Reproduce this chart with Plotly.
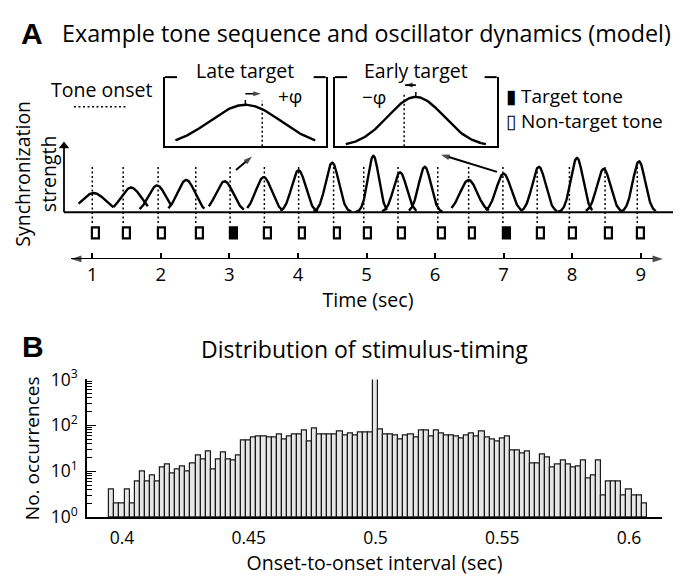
import numpy as np
import plotly.graph_objects as go

W, H = 692, 577
FONT = "Open Sans"

# ---------------- Panel A data ----------------
time_ticks = [1, 2, 3, 4, 5, 6, 7, 8, 9]
tone_onsets = [1.00, 1.45, 1.96, 2.51, 3.01, 3.51, 4.01, 4.52, 4.96,
               5.46, 6.04, 6.49, 6.99, 7.49, 7.96, 8.48, 8.95]
tone_is_target = [False, False, False, False, True, False, False, False, False,
                  False, False, False, True, False, False, False, False]
tone_duration = 0.1

# oscillator segments (one bump per tone): peak time, peak strength, width, extent
osc_peak_time = [1.02, 1.565, 1.945, 2.37, 2.93, 3.50, 4.01, 4.50, 5.10,
                 5.49, 5.85, 6.49, 7.00, 7.515, 8.07, 8.46, 8.975]
osc_peak_height = [0.28, 0.36, 0.39, 0.47, 0.45, 0.51, 0.61, 0.72, 0.82,
                   0.58, 0.66, 0.47, 0.56, 0.66, 0.79, 0.63, 0.74]
osc_width = [0.175, 0.146, 0.124, 0.127, 0.127, 0.117, 0.102, 0.095, 0.080,
             0.095, 0.090, 0.125, 0.108, 0.098, 0.089, 0.099, 0.090]
osc_start = [0.80, 1.31, 1.69, 2.11, 2.70, 3.26, 3.745, 4.23, 4.84,
             5.23, 5.62, 6.24, 6.74, 7.25, 7.79, 8.20, 8.71]
osc_end = [1.31, 1.81, 2.15, 2.635, 3.21, 3.78, 4.29, 4.78, 5.30,
           5.73, 6.105, 6.785, 7.27, 7.78, 8.295, 8.73, 9.22]

# insets (phase units): late target / early target
late_peak_height, late_width, late_span, late_onset_phase = 0.60, 0.443, 0.87, 0.21
early_peak_height, early_width, early_span, early_onset_phase = 0.714, 0.346, 0.866, -0.145

# ---------------- Panel B data ----------------
interval_bin_start = 0.395
interval_bin_width = 0.002
interval_counts = [4, 2, 2, 4, 2, 6, 10, 6, 8, 6,
                   12, 14, 9, 11, 13, 10, 15, 22, 18, 27,
                   11, 18, 26, 18, 17, 22, 47, 48, 54, 58,
                   58, 54, 55, 63, 49, 57, 64, 65, 76, 45,
                   85, 64, 62, 62, 62, 73, 60, 66, 59, 70,
                   70, 71, 1270, 80, 65, 62, 61, 50, 59, 62,
                   55, 78, 78, 56, 76, 68, 59, 60, 56, 53,
                   59, 68, 57, 73, 55, 49, 45, 53, 56, 29,
                   29, 25, 27, 15, 15, 23, 20, 12, 14, 17,
                   14, 12, 13, 17, 7, 8, 17, 3, 6, 6,
                   6, 3, 4, 3, 3, 2]
interval_ticks = [0.4, 0.45, 0.5, 0.55, 0.6]
interval_ticktext = ["0.4", "0.45", "0.5", "0.55", "0.6"]
count_ticks = [1, 10, 100, 1000]
count_ticktext = ["10<sup>0</sup>", "10<sup>1</sup>", "10<sup>2</sup>", "10<sup>3</sup>"]


# ---------------- geometry helpers (pixel -> axis units) ----------------
def px(x):
    return x / W


def py(y):
    return 1 - y / H


def ta(xp):  # panel A time for pixel x
    return 1 + (xp - 92.3) / 68.55


def va(yp):  # panel A strength for pixel y
    return (207.3 - yp) / 72.0


def tb(xp):  # panel B interval for pixel x
    return 0.5 + (xp - 375.5) / 2535.0


fig = go.Figure()
hid = dict(showlegend=False, hoverinfo="skip")


def arrow_line(x0, y0, x1, y1, xa="x", ya="y", width=1.8, head=10, both=False, symbol="arrow"):
    fig.add_trace(go.Scatter(
        x=[x0, x1], y=[y0, y1], mode="lines+markers", xaxis=xa, yaxis=ya,
        line=dict(color="black", width=width),
        marker=dict(symbol=symbol, angleref="previous", size=[0, head], color="black",
                    line=dict(width=0)),
        cliponaxis=False, **hid))
    if both:
        fig.add_trace(go.Scatter(
            x=[x1, x0], y=[y1, y0], mode="markers", xaxis=xa, yaxis=ya,
            marker=dict(symbol=symbol, angleref="previous", size=[0, head], color="black",
                        line=dict(width=0)),
            cliponaxis=False, **hid))


# dotted onset lines
xs, ys = [], []
for t in tone_onsets:
    xs += [t, t, None]
    ys += [va(160), va(221), None]
fig.add_trace(go.Scatter(x=xs, y=ys, mode="lines",
                         line=dict(color="black", width=1.5, dash="2px,2.5px"), **hid))

# baseline of synchronization strength
fig.add_trace(go.Scatter(x=[ta(64), ta(673)], y=[0, 0], mode="lines",
                         line=dict(color="black", width=2), **hid))

# oscillator bumps
for p, h, s, a, b in zip(osc_peak_time, osc_peak_height, osc_width, osc_start, osc_end):
    t = np.linspace(a, b, 90)
    fig.add_trace(go.Scatter(x=t, y=h * np.exp(-(t - p) ** 2 / (2 * s * s)), mode="lines",
                             line=dict(color="black", width=2.4), **hid))

# tones
fig.add_trace(go.Bar(
    x=[t + tone_duration / 2 for t in tone_onsets],
    y=[va(223.5) - va(234.5)] * len(tone_onsets),
    base=va(234.5), width=tone_duration,
    marker=dict(color=["black" if g else "white" for g in tone_is_target],
                line=dict(color="black", width=2.2)), **hid))

# axes arrows and pointers (panel A)
arrow_line(ta(71), va(256), ta(663), va(256), width=1.8, head=11, both=True)
fig.add_trace(go.Scatter(x=[ta(64), ta(64)], y=[0, va(139)], mode="lines",
                         line=dict(color="black", width=1.8), **hid))
fig.add_trace(go.Scatter(x=[ta(64)], y=[va(138)], mode="markers", cliponaxis=False,
                         marker=dict(symbol="triangle-up", size=9, color="black",
                                     line=dict(width=0)), **hid))
arrow_line(ta(236), va(163), ta(252), va(149), width=2, head=9)
arrow_line(ta(497), va(165), ta(441), va(147), width=2, head=9)

# insets
for axn, hgt, wid, span, ph in [("3", late_peak_height, late_width, late_span, late_onset_phase),
                                ("4", early_peak_height, early_width, early_span, early_onset_phase)]:
    xx = np.linspace(-span, span, 120)
    fig.add_trace(go.Scatter(x=xx, y=hgt * np.exp(-xx ** 2 / (2 * wid * wid)), mode="lines",
                             line=dict(color="black", width=2.4), xaxis="x" + axn, yaxis="y" + axn,
                             **hid))
    top = 0.66 if axn == "3" else 0.77
    fig.add_trace(go.Scatter(x=[ph, ph], y=[0, top], mode="lines",
                             line=dict(color="black", width=1.5, dash="2px,2.5px"),
                             xaxis="x" + axn, yaxis="y" + axn, **hid))
    fig.add_trace(go.Scatter(x=[0, 0], y=[hgt, hgt + 0.07], mode="lines",
                             line=dict(color="black", width=1.5),
                             xaxis="x" + axn, yaxis="y" + axn, **hid))
    yarr = 0.76 if axn == "3" else 0.885
    arrow_line(0, yarr, ph * 0.92, yarr, xa="x" + axn, ya="y" + axn, width=1.6, head=8)

# histogram
centers = [interval_bin_start + interval_bin_width * (i + 0.5) for i in range(len(interval_counts))]
fig.add_trace(go.Bar(
    x=centers, y=[c - 1 for c in interval_counts], base=1, width=interval_bin_width,
    marker=dict(color="#e6e6e6", line=dict(color="#1a1a1a", width=1.2)),
    xaxis="x2", yaxis="y2", cliponaxis=False, showlegend=False,
    customdata=interval_counts, hovertemplate="%{x:.3f}: %{customdata}<extra></extra>"))

anns = []


def text(x, y, s, size, xanchor="center", bold=False, angle=0, **kw):
    d = dict(x=px(x), y=py(y), xref="paper", yref="paper", text=s, showarrow=False,
             xanchor=xanchor, yanchor="middle", textangle=angle,
             font=dict(family=FONT, size=size, color="black"))
    if bold:
        d["font"] = dict(family="Liberation Sans", size=size, color="black", weight="bold")
    d.update(kw)
    anns.append(d)


text(19, 20, "A", 30, xanchor="left", bold=True)
text(60, 20, "Example tone sequence and oscillator dynamics (model)", 23.3, xanchor="left")
text(20, 348, "B", 30, xanchor="left", bold=True)
text(364, 350, "Distribution of stimulus-timing", 23)
text(101, 79, "Tone onset", 19.5)
text(35, 167, "Synchronization<br>strength", 19.5, angle=-90)
text(504, 99, "\u25ae Target tone<br>\u25af Non-target tone", 19, xanchor="left", align="left")

# inset labels
for axn, title, lab, labx, laby in [
        ("3", "Late target", "+\u03c6", 0.55, 0.73),
        ("4", "Early target", "\u2212\u03c6", -0.52, 0.72)]:
    anns.append(dict(x=0.5, y=1.09, xref="x" + axn + " domain", yref="y" + axn + " domain",
                     text=title, showarrow=False, yanchor="middle",
                     font=dict(family=FONT, size=19.5, color="black")))
    anns.append(dict(x=labx, y=laby, xref="x" + axn, yref="y" + axn, text=lab, showarrow=False,
                     font=dict(family=FONT, size=19, color="black")))

shapes = [dict(type="line", xref="paper", yref="paper", x0=px(74), x1=px(127), y0=py(97), y1=py(97),
               line=dict(color="black", width=1.5, dash="2px,2.5px"))]
for axn in ["3", "4"]:
    for a, b in [(0, 0.075), (0.925, 1)]:
        shapes.append(dict(type="line", xref="x" + axn + " domain", yref="y" + axn + " domain",
                           x0=a, x1=b, y0=1, y1=1, line=dict(color="black", width=2)))

inset_x = dict(range=[-1, 1], showline=True, linewidth=2, linecolor="black", mirror=False,
               showticklabels=False, ticks="", showgrid=False, zeroline=False, fixedrange=True)
inset_y = dict(range=[0, 1], showline=True, linewidth=2, linecolor="black", mirror=True,
               showticklabels=False, ticks="", showgrid=False, zeroline=False, fixedrange=True)

fig.update_layout(
    width=W, height=H, margin=dict(l=0, r=0, t=0, b=0),
    paper_bgcolor="white", plot_bgcolor="rgba(0,0,0,0)",
    barmode="overlay", bargap=0, showlegend=False,
    font=dict(family=FONT, size=18, color="black"),
    annotations=anns, shapes=shapes,
    xaxis=dict(domain=[px(56), px(680)], range=[ta(56), ta(680)], anchor="y",
               showline=False, showgrid=False, zeroline=False,
               tickvals=time_ticks, ticks="inside", ticklen=6, tickwidth=1.5, tickcolor="black",
               tickfont=dict(size=18.5), ticklabelstandoff=3,
               title=dict(text="Time (sec)", font=dict(size=19.5), standoff=2)),
    yaxis=dict(domain=[py(256), py(128)], range=[va(256), va(128)], anchor="x",
               showline=False, showgrid=False, showticklabels=False, ticks="", zeroline=False),
    xaxis2=dict(domain=[px(87), px(662)], range=[tb(87), tb(662)], anchor="y2",
                showline=True, linewidth=1.5, linecolor="black", showgrid=False, zeroline=False,
                tickvals=interval_ticks, ticktext=interval_ticktext, ticks="",
                tickfont=dict(size=17.5), ticklabelstandoff=4,
                title=dict(text="Onset-to-onset interval (sec)", font=dict(size=19.5), standoff=4)),
    yaxis2=dict(type="log", domain=[py(526), py(382)], range=[0, 3], anchor="x2",
                showline=True, linewidth=1.5, linecolor="black", showgrid=False, zeroline=False,
                tickvals=count_ticks, ticktext=count_ticktext, ticks="inside", ticklen=9,
                tickwidth=1.2, tickcolor="black", tickfont=dict(size=17.5), ticklabelstandoff=4,
                minor=dict(ticks="inside", ticklen=5, tickwidth=1, tickcolor="black",
                           tickvals=[m * 10 ** k for k in range(3) for m in range(2, 10)]),
                title=dict(text="No. occurrences", font=dict(size=19), standoff=6)),
    xaxis3=dict(inset_x, domain=[px(165), px(325.7)], anchor="y3"),
    yaxis3=dict(inset_y, domain=[py(138.3), py(66)], anchor="x3"),
    xaxis4=dict(inset_x, domain=[px(335), px(496.7)], anchor="y4"),
    yaxis4=dict(inset_y, domain=[py(138.3), py(66)], anchor="x4"),
)

fig.write_html("out.html", config={"displayModeBar": False},
               post_script="document.body.style.margin='0px';")
